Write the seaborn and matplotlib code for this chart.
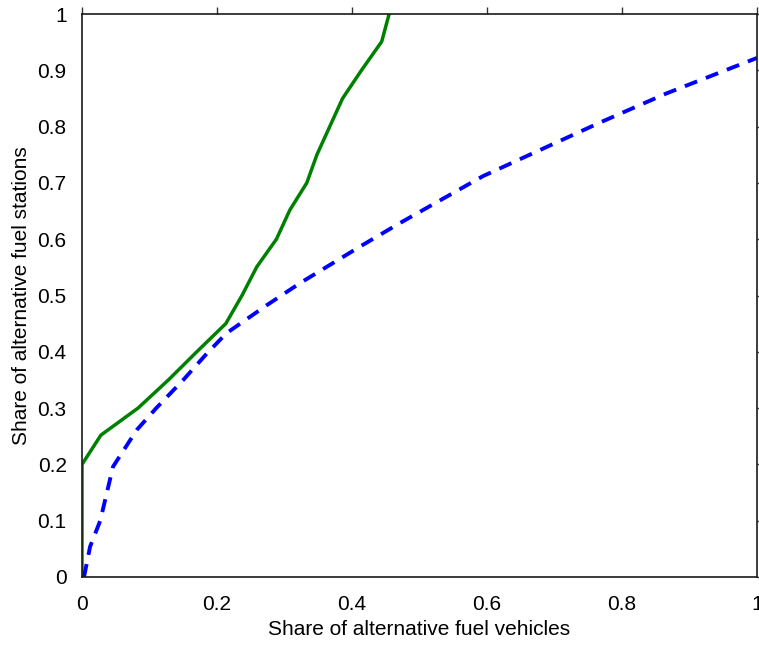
import numpy as np
import pandas as pd
import seaborn as sns
import matplotlib
matplotlib.use("Agg")
import matplotlib.pyplot as plt

# Data
green_x = [0.0, 0.0, 0.028, 0.083, 0.128, 0.17, 0.213, 0.237, 0.259, 0.288,
           0.308, 0.333, 0.348, 0.367, 0.386, 0.414, 0.444, 0.455]
green_y = [0.0, 0.2, 0.252, 0.30, 0.35, 0.40, 0.45, 0.50, 0.551, 0.60,
           0.652, 0.70, 0.75, 0.80, 0.85, 0.90, 0.951, 1.0]

blue_x = [0.003, 0.012, 0.027, 0.046, 0.081, 0.11, 0.15, 0.185, 0.214, 0.274,
          0.323, 0.412, 0.47, 0.594, 0.767, 0.866, 1.0]
blue_y = [0.0, 0.054, 0.10, 0.196, 0.261, 0.30, 0.35, 0.397, 0.433, 0.483,
          0.522, 0.587, 0.628, 0.712, 0.807, 0.859, 0.922]

x_ticks = [0, 0.2, 0.4, 0.6, 0.8, 1]
x_tick_labels = ["0", "0.2", "0.4", "0.6", "0.8", "1"]
y_ticks = [0, 0.1, 0.2, 0.3, 0.4, 0.5, 0.6, 0.7, 0.8, 0.9, 1]
y_tick_labels = ["0", "0.1", "0.2", "0.3", "0.4", "0.5", "0.6", "0.7", "0.8", "0.9", "1"]

sns.set_style("white")
plt.rcParams['font.family'] = ['Liberation Sans', 'DejaVu Sans']
plt.rcParams['text.color'] = 'black'
plt.rcParams['axes.labelcolor'] = 'black'
plt.rcParams['xtick.color'] = 'black'
plt.rcParams['ytick.color'] = 'black'

fig = plt.figure(figsize=(7.59, 6.46), dpi=100)
ax = fig.add_axes([82 / 759, 69 / 646, 675 / 759, 563 / 646])

green_df = pd.DataFrame({"x": green_x, "y": green_y})
blue_df = pd.DataFrame({"x": blue_x, "y": blue_y})

sns.lineplot(data=green_df, x="x", y="y", sort=False, estimator=None,
             color="#008000", linewidth=2.5, ax=ax)
sns.lineplot(data=blue_df, x="x", y="y", sort=False, estimator=None,
             color="#0000ff", linewidth=2.8, ax=ax)
ax.lines[-1].set_dashes([3.4, 2.4])

ax.set_xlim(0, 1)
ax.set_ylim(0, 1)
ax.set_xticks(x_ticks)
ax.set_xticklabels(x_tick_labels)
ax.set_yticks(y_ticks)
ax.set_yticklabels(y_tick_labels)
ax.tick_params(direction="out", length=5, width=1, color="#333333",
               top=True, right=True, labelsize=15)
ax.tick_params(axis="x", pad=8)
ax.tick_params(axis="y", pad=6)
for side in ax.spines.values():
    side.set_color("#1a1a1a")
    side.set_linewidth(1.2)

ax.set_xlabel("Share of alternative fuel vehicles", fontsize=15, labelpad=4)
ax.set_ylabel("Share of alternative fuel stations", fontsize=15, labelpad=5)

fig.savefig("out.png", dpi=100)
